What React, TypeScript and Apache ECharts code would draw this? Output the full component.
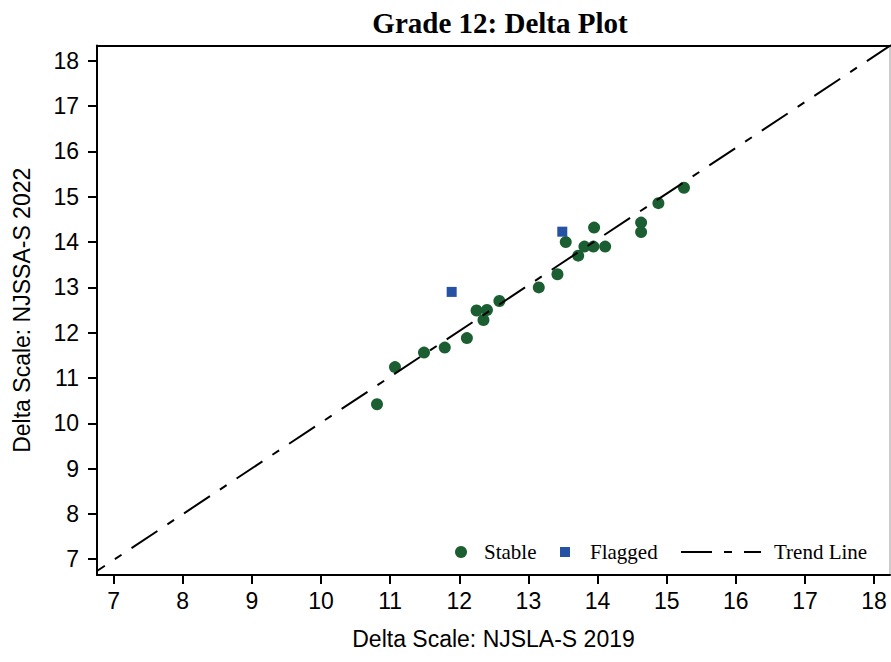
import React, { useEffect, useRef } from "react";
import * as echarts from "echarts";

// Delta values (NJSLA-S 2019 on x, NJSSA-S 2022 on y)
const stableX = [10.81, 11.07, 11.49, 11.79, 12.11, 12.25, 12.40, 12.35, 12.58, 13.15, 13.42, 13.72, 13.81, 13.94, 14.11, 13.54, 13.95, 14.63, 14.63, 14.88, 15.25];
const stableY = [10.42, 11.24, 11.56, 11.67, 11.88, 12.49, 12.50, 12.28, 12.70, 13.00, 13.29, 13.70, 13.90, 13.90, 13.90, 14.00, 14.32, 14.22, 14.43, 14.86, 15.20];

const flaggedX = [11.89, 13.49];
const flaggedY = [12.90, 14.23];

// Trend line end points
const trendX = [6.5, 18.5];
const trendY = [6.476, 18.608];

const tickValues = [7, 8, 9, 10, 11, 12, 13, 14, 15, 16, 17, 18];

const zip = (xs: number[], ys: number[]) => xs.map((x, i) => [x, ys[i]]);

const SANS = "'Liberation Sans', Arial, sans-serif";
const SERIF = "'Liberation Serif', 'Times New Roman', serif";

export default function App() {
  const ref = useRef<HTMLDivElement>(null);

  useEffect(() => {
    if (!ref.current) return;
    const chart = echarts.init(ref.current, null, { renderer: "svg" });

    const tickStyle = {
      show: true,
      inside: false,
      length: 9,
      customValues: tickValues,
      lineStyle: { color: "#000", width: 2 },
    };
    const labelStyle = {
      show: true,
      customValues: tickValues,
      color: "#000",
      fontFamily: SANS,
      fontSize: 23,
    };
    const legendText = { fontFamily: SERIF, fontSize: 21, color: "#000", lineHeight: 22 };

    const option = {
      animation: false,
      backgroundColor: "#fff",
      title: {
        text: "Grade 12: Delta Plot",
        left: 495,
        top: 3,
        textAlign: "center",
        textStyle: { fontFamily: SERIF, fontWeight: "bold", fontSize: 29, color: "#000" },
      },
      grid: {
        left: 97,
        top: 45.5,
        right: 1,
        bottom: 87,
        show: true,
        borderColor: "#999",
        borderWidth: 1,
        containLabel: false,
      },
      xAxis: [
        {
          type: "value",
          min: 6.76,
          max: 18.23,
          position: "bottom",
          name: "Delta Scale: NJSLA-S 2019",
          nameLocation: "middle",
          nameGap: 52,
          nameTextStyle: { fontFamily: SANS, fontSize: 23, color: "#000" },
          axisLine: { show: true, onZero: false, lineStyle: { color: "#000", width: 2 } },
          axisTick: tickStyle,
          axisLabel: { ...labelStyle, margin: 14 },
          splitLine: { show: false },
        },
        {
          type: "value",
          min: 6.76,
          max: 18.23,
          position: "top",
          axisLine: { show: true, onZero: false, lineStyle: { color: "#000", width: 2 } },
          axisTick: { show: false },
          axisLabel: { show: false },
          splitLine: { show: false },
        },
      ],
      yAxis: {
        type: "value",
        min: 6.65,
        max: 18.34,
        name: "Delta Scale: NJSSA-S 2022",
        nameLocation: "middle",
        nameGap: 64,
        nameTextStyle: { fontFamily: SANS, fontSize: 23, color: "#000" },
        axisLine: { show: true, onZero: false, lineStyle: { color: "#000", width: 2 } },
        axisTick: tickStyle,
        axisLabel: { ...labelStyle, margin: 18 },
        splitLine: { show: false },
      },
      legend: [
        {
          data: ["Stable"],
          left: 455,
          top: 541,
          icon: "circle",
          itemWidth: 36,
          itemHeight: 12,
          selectedMode: false,
          padding: 0,
          textStyle: legendText,
        },
        {
          data: ["Flagged"],
          left: 560,
          top: 541,
          icon: "rect",
          itemWidth: 10,
          itemHeight: 10,
          selectedMode: false,
          padding: 0,
          textStyle: { ...legendText, padding: [0, 0, 0, 15] },
        },
        {
          data: ["Trend Line"],
          left: 680,
          top: 541,
          itemWidth: 80,
          itemHeight: 12,
          selectedMode: false,
          padding: 0,
          itemStyle: { opacity: 0 },
          lineStyle: { color: "#000", width: 2, type: [31, 12, 8, 12], opacity: 1 },
          textStyle: { ...legendText, padding: [0, 0, 0, 8] },
        },
      ],
      series: [
        {
          name: "Stable",
          type: "scatter",
          symbol: "circle",
          symbolSize: 12,
          itemStyle: { color: "#1b5e32", opacity: 1 },
          data: zip(stableX, stableY),
          z: 2,
        },
        {
          name: "Flagged",
          type: "scatter",
          symbol: "rect",
          symbolSize: 10,
          itemStyle: { color: "#2552a3", opacity: 1 },
          data: zip(flaggedX, flaggedY),
          z: 2,
        },
        {
          name: "Trend Line",
          type: "line",
          symbol: "none",
          showSymbol: false,
          clip: true,
          lineStyle: { color: "#000", width: 2, type: [31, 12, 8, 12] },
          itemStyle: { color: "#000" },
          data: zip(trendX, trendY),
          z: 3,
        },
      ],
    };

    chart.setOption(option as any);
    return () => chart.dispose();
  }, []);

  return (
    <div
      ref={ref}
      style={{ position: "fixed", left: 0, top: 0, width: 891, height: 662, background: "#fff" }}
    />
  );
}
